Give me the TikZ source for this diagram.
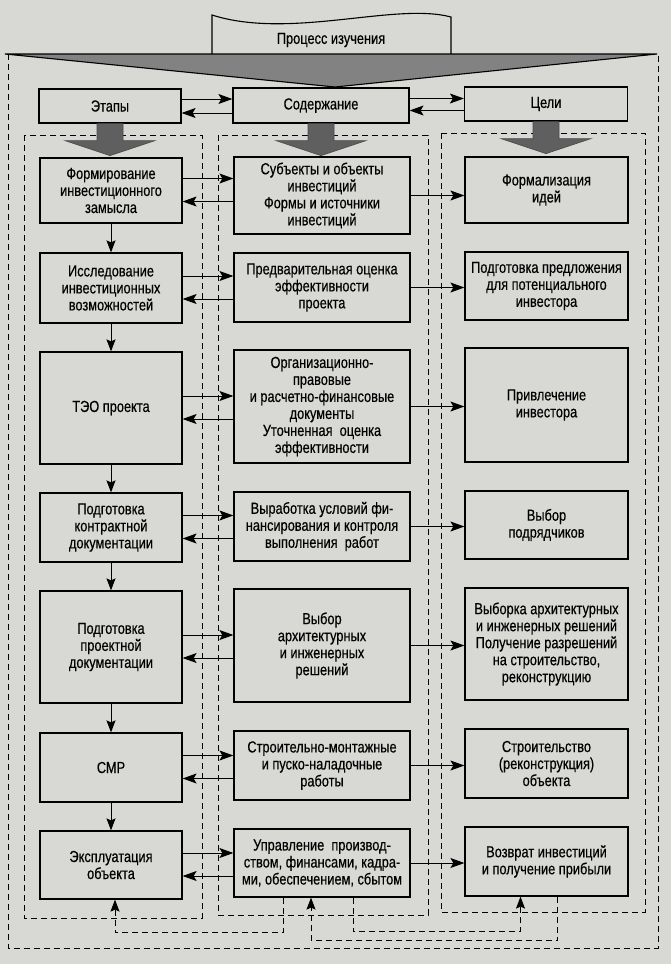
\documentclass[tikz,border=0pt]{standalone}
\usepackage{fontspec}
\setmainfont{Liberation Sans}[FakeStretch=0.8, FakeBold=0.4]
\usepackage{tikz}
\usetikzlibrary{arrows.meta}

\definecolor{paper}{RGB}{216,216,213}
\definecolor{blockgray}{RGB}{95,95,95}
\definecolor{trigray}{RGB}{130,130,130}

\tikzset{
	box/.style={draw, line width=1.2pt, fill=paper, inner sep=0pt, align=center,
		font=\fontsize{16}{17}\selectfont},
	lbox/.style={box, minimum width=142pt},
	mbox/.style={box, minimum width=176pt},
	rbox/.style={box, minimum width=163pt},
	flowarrow/.style={-{Stealth[length=14pt, width=10pt, inset=3pt]}, line width=1pt},
	downarrow/.style={-{Stealth[length=12pt, width=9pt, inset=2pt]}, line width=1pt},
	frame/.style={dash pattern=on 6pt off 4pt, line width=0.9pt},
	backarrow/.style={frame, -{Stealth[length=12pt, width=9pt, inset=2pt]}},
	blockarrow/.style={fill=blockgray, draw=black!70, line width=0.6pt},
}

\begin{document}
\begin{tikzpicture}[x=1pt, y=-1pt]
				% Paper and outer frame:
				\fill[paper] (0,0) rectangle (671,964);
				\useasboundingbox (0,0) rectangle (671,964);
				\draw[frame] (8,54) -- (8,948) -- (658,948) -- (658,54);
				\draw[frame] (24,135) rectangle (202,918);
				\draw[frame] (218,135) rectangle (428,915);
				\draw[frame] (441,133) rectangle (645,912);
				% Process heading and the wide wedge:
				\draw[line width=1.1pt, fill=paper] (212,56) -- (212,15) .. controls (290,40) and (395,2) .. (451,17) -- (451,56);
				\node[font=\fontsize{16}{17}\selectfont](P) at (331,40){Процесс изучения};
				\draw[fill=trigray, line width=1.1pt] (5,54) -- (657,54) -- (335,87) -- cycle;
				% Headings:
				\node[lbox, minimum height=34pt](H1) at (110,106){Этапы};
				\node[mbox, minimum height=35pt](H2) at (321,105.5){Содержание};
				\node[rbox, minimum height=34pt](H3) at (546,104){Цели};
				\draw[flowarrow] ([yshift=7pt]H1.east) -- ([yshift=7pt]H1.east -| H2.west);
				\draw[flowarrow] ([yshift=-7pt]H1.east -| H2.west) -- ([yshift=-7pt]H1.east);
				\draw[flowarrow] ([yshift=7pt]H2.east) -- ([yshift=7pt]H2.east -| H3.west);
				\draw[flowarrow] ([yshift=-5pt]H2.east -| H3.west) -- ([yshift=-5pt]H2.east);
				\foreach \h in {H1, H2, H3}
					\draw[blockarrow] ([xshift=-13pt]\h.south) -- ++(0,17) -- ++(-32,0) -- ++(45,15)
						-- ++(45,-15) -- ++(-32,0) -- ++(0,-17) -- cycle;
				% Stages:
				\node[lbox, minimum height=65pt](L1) at (111,190.5){Формирование\\инвестиционного\\замысла};
				\node[lbox, minimum height=70pt](L2) at (111,288){Исследование\\инвестиционных\\возможностей};
				\node[lbox, minimum height=112pt](L3) at (111,408){ТЭО проекта};
				\node[lbox, minimum height=69pt](L4) at (111,527.5){Подготовка\\контрактной\\документации};
				\node[lbox, minimum height=112pt](L5) at (111,647){Подготовка\\проектной\\документации};
				\node[lbox, minimum height=69pt](L6) at (111,767.5){СМР};
				\node[lbox, minimum height=68pt](L7) at (111,865){Эксплуатация\\объекта};
				% Content:
				\node[mbox, minimum height=77pt](M1) at (322,195.5){Субъекты и объекты\\инвестиций\\Формы и источники\\инвестиций};
				\node[mbox, minimum height=69pt](M2) at (322,287.5){Предварительная оценка\\эффективности\\проекта};
				\node[mbox, minimum height=113pt](M3) at (322,406.5){Организационно-\\правовые\\и расчетно-финансовые\\документы\\Уточненная\ \ оценка\\эффективности};
				\node[mbox, minimum height=69pt](M4) at (322,526.5){Выработка условий фи-\\нансирования и контроля\\выполнения\ \ работ};
				\node[mbox, minimum height=113pt](M5) at (322,645.5){Выбор\\архитектурных\\и инженерных\\решений};
				\node[mbox, minimum height=69pt](M6) at (322,765.5){Строительно-монтажные\\и пуско-наладочные\\работы};
				\node[mbox, minimum height=68pt](M7) at (322,863){Управление\ \ производ-\\ством, финансами, кадра-\\ми, обеспечением, сбытом};
				% Goals:
				\node[rbox, minimum height=66pt](R1) at (546.5,190){Формализация\\идей};
				\node[rbox, minimum height=68pt](R2) at (546.5,286){Подготовка предложения\\для потенциального\\инвестора};
				\node[rbox, minimum height=114pt](R3) at (546.5,405){Привлечение\\инвестора};
				\node[rbox, minimum height=68pt](R4) at (546.5,525){Выбор\\подрядчиков};
				\node[rbox, minimum height=112pt](R5) at (546.5,644){Выборка архитектурных\\и инженерных решений\\Получение разрешений\\на строительство,\\реконструкцию};
				\node[rbox, minimum height=69pt](R6) at (546.5,763.5){Строительство\\(реконструкция)\\объекта};
				\node[rbox, minimum height=69pt](R7) at (546.5,861.5){Возврат инвестиций\\и получение прибыли};
				% Links:
				\foreach \a/\b in {L1/L2, L2/L3, L3/L4, L4/L5, L5/L6, L6/L7}
					\draw[downarrow] (\a) -- (\b);
				\foreach \n in {1,...,7} {
					\draw[flowarrow] ([yshift=12pt]L\n.east) -- ([yshift=12pt]L\n.east -| M\n.west);
					\draw[flowarrow] ([yshift=-11pt]L\n.east -| M\n.west) -- ([yshift=-11pt]L\n.east);
					\draw[flowarrow] (M\n.east) -- (M\n.east -| R\n.west);
				}
				% Feedback:
				\draw[backarrow] ([xshift=-39pt]M7.south) -- ++(0,35) -| ([xshift=4pt]L7.south);
				\draw[backarrow] ([xshift=31pt]M7.south) -- ++(0,34) -| ([xshift=-26pt]R7.south);
				\draw[backarrow] ([xshift=11pt]R7.south) -- ++(0,44) -| ([xshift=-11pt]M7.south);
			\end{tikzpicture}
\end{document}
